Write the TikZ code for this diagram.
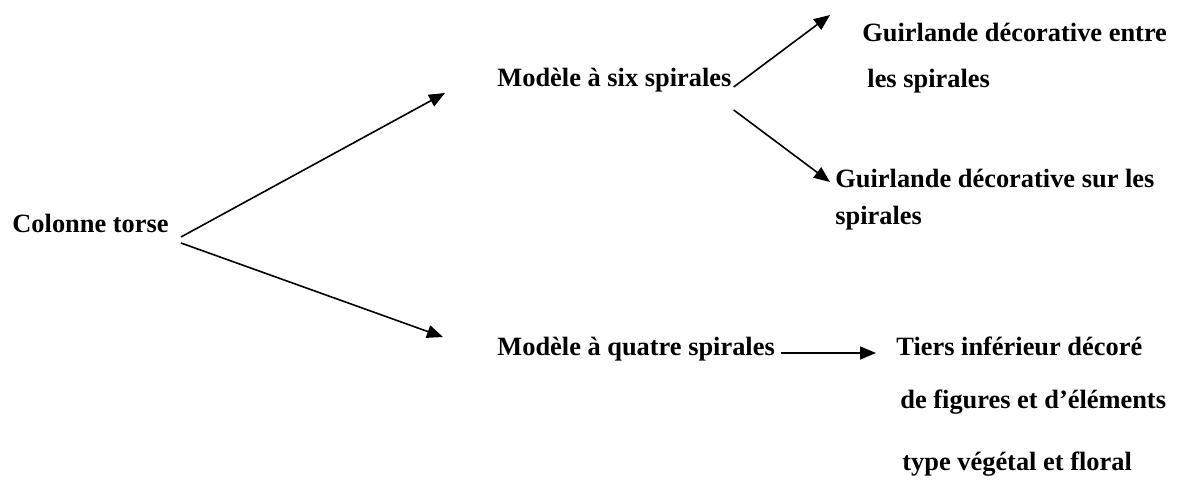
\documentclass[tikz,border=0pt]{standalone}
\usepackage{fontspec}
\setmainfont{Liberation Serif}
\usetikzlibrary{arrows.meta,positioning,calc}

\begin{document}
\begin{tikzpicture}[
    x=0.5pt, y=-0.5pt,
    lbl/.style={anchor=base west, inner sep=0pt, align=left, font=\fontsize{13.2}{16}\selectfont\bfseries},
    arrow/.style={-{Triangle[length=8pt, width=6.5pt]}, line width=0.8pt}
]
\useasboundingbox (0,0) rectangle (1181,480);

% Labels (base west = baseline of the last line)
\node[lbl] (colonne) at (12,233) {Colonne torse};
\node[lbl] (six) at (497,87) {Modèle à six spirales};
\node[lbl] (quatre) at (497,355) {Modèle à quatre spirales};
\node[lbl, font=\fontsize{13.2}{23}\selectfont\bfseries] (entre) at (862,88) {Guirlande décorative entre\\\hspace*{2.5pt}les spirales};
\node[lbl, font=\fontsize{13.2}{18.5}\selectfont\bfseries] (sur) at (835,225) {Guirlande décorative sur les\\spirales};
\node[lbl, font=\fontsize{13.2}{26.5}\selectfont\bfseries] (tiers) at (896,470) {Tiers inférieur décoré\\\hspace*{2pt}de figures et d’éléments\\[4.5pt]\hspace*{3pt}type végétal et floral};

% Arrows
\draw[arrow] ([shift={(12,4)}]colonne.base east) -- ([shift={(-52,6)}]six.base west);
\draw[arrow] ([shift={(12,10)}]colonne.base east) -- ([shift={(-54,-18)}]quatre.base west);
\draw[arrow] ([shift={(2,0)}]six.base east) -- ([shift={(-32,-73)}]entre.base west);
\draw[arrow] ([shift={(2,23)}]six.base east) -- ([shift={(-5,-43)}]sur.base west);
\draw[arrow] ([shift={(6,-2)}]quatre.base east) -- ([shift={(-20,-117)}]tiers.base west);

\end{tikzpicture}
\end{document}
